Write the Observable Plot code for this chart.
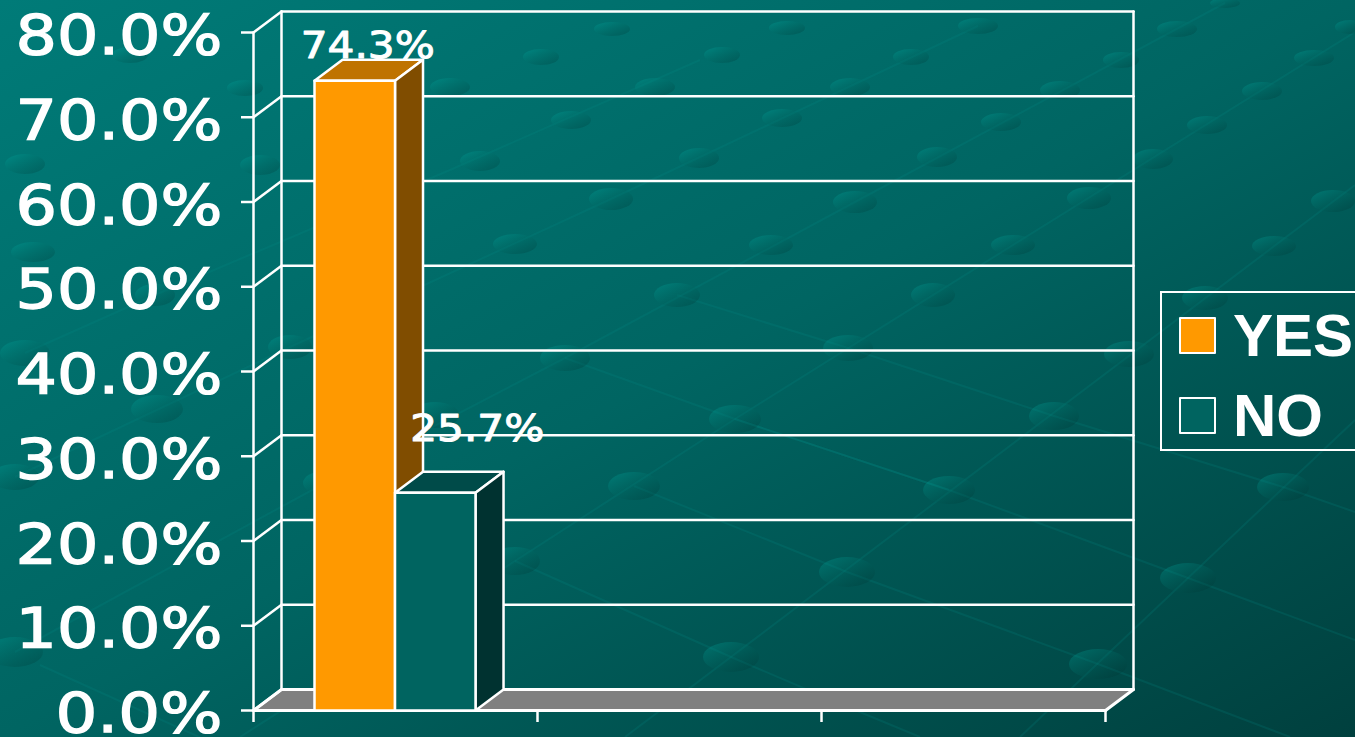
<!DOCTYPE html>
<html>
<head>
<meta charset="utf-8">
<script src="https://cdn.jsdelivr.net/npm/d3@7"></script>
<script src="https://cdn.jsdelivr.net/npm/@observablehq/plot@0.6"></script>
<style>
  html, body { margin: 0; padding: 0; width: 1355px; height: 737px; overflow: hidden; background: #005a58; }
  #page { position: relative; width: 1355px; height: 737px; overflow: hidden; background-size: 1355px 737px; }
  #chart svg { display: block; position: absolute; left: 0; top: 0; }
  #legend { position: absolute; left: 1160px; top: 291px; width: 240px; height: 156px; border: 2px solid #fff; box-sizing: content-box;
            font-family: "Liberation Sans", Arial, sans-serif; font-weight: bold; font-size: 60px; color: #fff; }
  .entry { position: absolute; left: 0; height: 40px; }
  .swatch { position: absolute; left: 17px; top: 0; width: 33px; height: 33px; border: 2px solid #fff; border-radius: 1px; }
  .name { position: absolute; left: 71px; top: -14px; line-height: 66px; }
</style>
</head>
<body>
<div id="page">
  <div id="chart"></div>
  <div id="legend"></div>
</div>
<script>
// --- chart values ---
const categories = ["YES", "NO"];
const values = [74.3, 25.7];
const valueLabels = ["74.3%", "25.7%"];
const faceColors = ["#FF9900", "#006460"];
const topColors = ["#BF7300", "#004B49"];
const sideColors = ["#804D00", "#003230"];
const yTicks = [0, 10, 20, 30, 40, 50, 60, 70, 80];
const xTicks = [0, 1, 2, 3];

// --- wallpaper texture (not data) ---
const wallpaperDots = [
  [731,657,28,15],[1098,664,29,15],[15,652,28,15],[847,572,28,15],[1188,578,28,15],[515,561,25,14],
  [634,486,26,14],[949,490,26,14],[1283,487,26,14],[325,483,22,12],[735,419,26,14],[1054,416,25,14],
  [157,409,26,14],[435,415,24,13],[15,477,24,13],[565,358,25,13],[848,348,25,13],[1129,354,25,13],
  [25,353,25,13],[290,347,22,12],[677,295,23,12],[933,295,22,12],[1205,298,23,12],[155,295,20,11],
  [515,244,22,10],[771,245,22,10],[1013,245,22,10],[1274,246,22,10],[33,252,22,10],[611,199,22,11],
  [855,202,22,11],[1089,198,22,11],[1333,201,22,11],[480,161,20,10],[699,158,20,10],[937,157,20,10],
  [1153,159,20,10],[25,164,20,10],[260,165,20,10],[571,120,20,9],[782,118,20,9],[1001,122,20,9],
  [1207,125,20,9],[655,87,20,9],[850,87,20,9],[1060,90,20,9],[1262,91,20,9],[450,87,20,9],
  [541,57,18,8],[722,55,18,8],[911,57,18,8],[1121,60,18,8],[1314,58,20,8],[612,29,18,7],
  [787,28,18,7],[978,26,20,8],[1177,29,20,8],[1350,27,15,7],[1225,3,15,5],[130,55,18,8],[245,88,18,8]
];
const wallpaperLines = [
  [[625,737],[1355,185]],
  [[1020,737],[1355,420]],
  [[240,737],[515,561],[735,419],[1013,245],[1355,32]],
  [[15,652],[325,483],[565,358],[855,202],[1225,3]],
  [[15,477],[290,347],[611,199],[978,26]],
  [[25,353],[155,295],[450,170],[700,60]],
  [[515,561],[731,657],[855,710],[920,737]],
  [[634,486],[847,572],[1098,664],[1290,737]],
  [[735,419],[949,490],[1188,578],[1355,640]],
  [[565,358],[735,419],[949,490]],
  [[677,295],[848,348],[1054,416],[1283,487],[1355,512]],
  [[40,665],[250,760]]
];
const wallpaper = `<svg xmlns="http://www.w3.org/2000/svg" width="1355" height="737" viewBox="0 0 1355 737">
<defs>
<linearGradient id="b" x1="0" y1="0" x2="1" y2="1"><stop offset="0" stop-color="#007b78"/><stop offset="0.5" stop-color="#006562"/><stop offset="1" stop-color="#00403e"/></linearGradient>
<linearGradient id="d" x1="0.1" y1="0.1" x2="0.85" y2="0.9"><stop offset="0" stop-color="#00a89e" stop-opacity="0.3"/><stop offset="1" stop-color="#002e2c" stop-opacity="0.22"/></linearGradient>
</defs>
<rect width="1355" height="737" fill="url(#b)"/>
${wallpaperLines.map(l => `<polyline points="${l.map(p => p.join(",")).join(" ")}" fill="none" stroke="#00918b" stroke-opacity="0.18" stroke-width="2"/>`).join("")}
${wallpaperDots.map(([x, y, rx, ry]) => `<ellipse cx="${x}" cy="${y}" rx="${rx}" ry="${ry}" fill="url(#d)"/>`).join("")}
</svg>`;
document.getElementById("page").style.backgroundImage = `url("data:image/svg+xml,${encodeURIComponent(wallpaper)}")`;

// --- oblique projection, in data units: one depth = 28px right, 21px up on the scales below ---
const depthX = 28 / 284, depthY = 21 / 8.475;
const P = (x, y, z = 0) => ({x: x + z * depthX, y: y + z * depthY});
const barStart = 0.2148, barWidth = 0.2835;
const poly = pts => [...pts, pts[0]];
const WHITE = "#fff";
const LW = 2.5;
const outline = (pts, fill, sw = LW) => Plot.line(poly(pts), {x: "x", y: "y", fill, stroke: WHITE, strokeWidth: sw, strokeLinejoin: "round"});
const seg = (a, b, sw = LW) => Plot.line([a, b], {x: "x", y: "y", stroke: WHITE, strokeWidth: sw});

const floor = outline([P(0,0,0), P(3,0,0), P(3,0,1), P(0,0,1)], "#808080", 3);
const grid = yTicks.flatMap(t => [seg(P(0,t,1), P(3,t,1)), seg(P(0,t,0), P(0,t,1))]);
const walls = [seg(P(0,0,1), P(0,80,1)), seg(P(3,0,1), P(3,80,1)), seg(P(0,0,0), P(0,80,0)), seg(P(0,0,0), P(3,0,0), 3)];

const bars = values.flatMap((v, i) => {
  const a = barStart + i * barWidth, b = a + barWidth;
  return [
    outline([P(a,v,0), P(b,v,0), P(b,v,1), P(a,v,1)], topColors[i]),
    outline([P(b,0,0), P(b,v,0), P(b,v,1), P(b,0,1)], sideColors[i]),
    outline([P(a,0,0), P(b,0,0), P(b,v,0), P(a,v,0)], faceColors[i])
  ];
});

const labelOffsets = [[13, -35], [42, -64]];
const labels = values.map((v, i) => Plot.text([v], {
  x: () => barStart + (i + 0.5) * barWidth,
  y: d => d,
  text: () => valueLabels[i],
  dx: labelOffsets[i][0], dy: labelOffsets[i][1],
  fontSize: 37, fill: WHITE, stroke: WHITE, strokeWidth: 1, textAnchor: "middle", lineAnchor: "middle",
  className: "vlabel"
}));

const chart = Plot.plot({
  width: 1355, height: 737,
  marginLeft: 253, marginRight: 250, marginTop: 32, marginBottom: 27,
  style: {background: "transparent", color: WHITE, fontFamily: "'DejaVu Sans', sans-serif", overflow: "visible"},
  x: {domain: [0, 3]},
  y: {domain: [0, 80]},
  marks: [
    floor, ...grid, ...walls, ...bars,
    Plot.axisX({ticks: xTicks, tickSize: 12, tickFormat: () => "", label: null, stroke: WHITE, strokeWidth: 2.5}),
    Plot.axisY({ticks: yTicks, tickSize: 12, tickFormat: () => "", label: null, stroke: WHITE, strokeWidth: 2.5}),
    Plot.axisY({ticks: yTicks, tickSize: 0, tickPadding: 31, label: null, tickFormat: d => d.toFixed(1) + "%",
      fontSize: 55, fill: WHITE, dy: 4, className: "ylabels"}),
    ...labels
  ]
});
document.getElementById("chart").appendChild(chart);

// stretch the wide presentation lettering horizontally, to the widths measured on the original
chart.querySelectorAll(".ylabels text").forEach(t => {
  if (!t.textContent) return;
  t.setAttribute("textLength", t.textContent.length === 5 ? 207 : 167);
  t.setAttribute("lengthAdjust", "spacingAndGlyphs");
  t.setAttribute("stroke", WHITE);
  t.setAttribute("stroke-width", 1.3);
});
chart.querySelectorAll(".vlabel text").forEach(t => {
  t.setAttribute("textLength", 134);
  t.setAttribute("lengthAdjust", "spacingAndGlyphs");
});

// --- legend ---
const legend = document.getElementById("legend");
categories.forEach((c, i) => {
  const e = document.createElement("div");
  e.className = "entry";
  e.style.top = (24 + i * 80) + "px";
  e.innerHTML = `<div class="swatch" style="background:${faceColors[i]}"></div><div class="name">${c}</div>`;
  legend.appendChild(e);
});
</script>
</body>
</html>
